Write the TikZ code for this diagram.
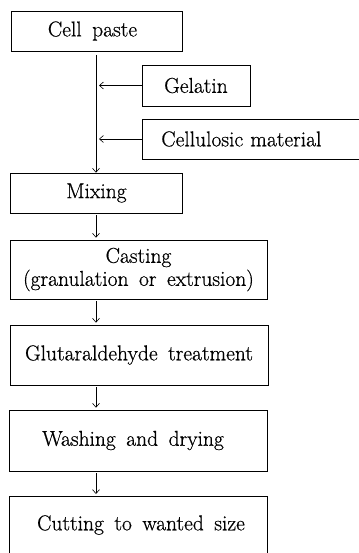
\documentclass[tikz,border=0pt]{standalone}
\usepackage{fontspec}
\newfontfamily\heavyrm[FakeBold=0.6]{Latin Modern Roman}
\usetikzlibrary{arrows.meta}
\tikzset{
  txt/.style={font={\heavyrm\fontsize{21.5}{23}\selectfont\spaceskip=10.5pt plus 2pt minus 1pt\relax}},
  box/.style={draw, line width=0.6pt, inner sep=0pt, txt},
  flow/.style={line width=0.6pt, -{Straight Barb[length=4pt,width=7pt,line width=0.6pt]}},
}
\begin{document}
\begin{tikzpicture}[x=1pt,y=-1pt]
\useasboundingbox (0,0) rectangle (358,553);
\node[box, minimum width=171pt, minimum height=40pt] (cell) at (96.5,31) {Cell paste\hspace*{8pt}};
\node[box, minimum width=108pt, minimum height=41pt] (gel) at (196,85.5) {Gelatin};
\node[box, minimum width=228pt, minimum height=40pt, anchor=west, text width=200pt, inner xsep=14pt, align=left] (cellu) at (142,139) {\hspace*{5pt}Cellulosic material};
\node[box, minimum width=172pt, minimum height=40pt] (mix) at (96.5,193) {Mixing};
\node[box, minimum width=257pt, minimum height=59pt, align=center] (cast) at (138.5,269.5) {Casting\\(granulation or extrusion)};
\node[box, minimum width=258pt, minimum height=60pt] (glut) at (139,355) {Glutaraldehyde treatment};
\node[box, minimum width=258pt, minimum height=61pt] (wash) at (138,440.5) {Washing and drying\hspace*{10pt}};
\node[box, minimum width=258pt, anchor=north, text height=14pt, text depth=50pt, inner ysep=20pt] (cut) at (138,496) {\hspace*{6pt}Cutting to wanted size};
\coordinate (top) at (96,55);
\coordinate (g1) at (99,85.5);
\coordinate (c1) at (99,139);
\draw[flow] (top) -- (mix.north -| top);
\draw[flow] (gel.west) -- (g1);
\draw[flow] (cellu.west) -- (c1);
\draw[flow, shorten <=2pt, shorten >=2pt] (mix.south -| top) -- (cast.north -| top);
\draw[flow, shorten <=2pt, shorten >=2pt] (cast.south -| top) -- (glut.north -| top);
\draw[flow, shorten <=2pt, shorten >=2pt] (glut.south -| top) -- (wash.north -| top);
\draw[flow, shorten <=2pt, shorten >=2pt] (wash.south -| top) -- (cut.north -| top);
\end{tikzpicture}
\end{document}
